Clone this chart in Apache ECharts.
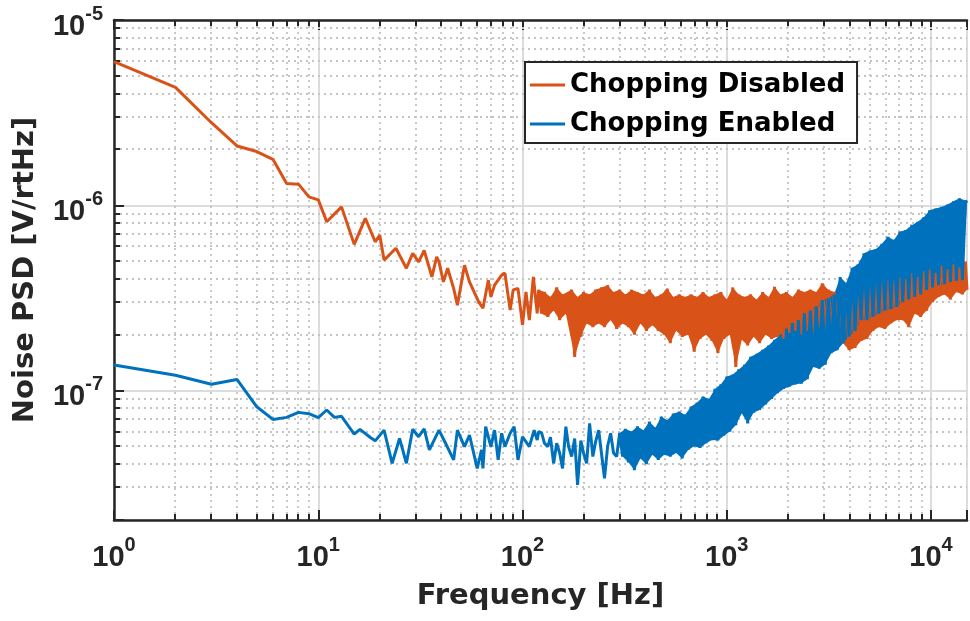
<!DOCTYPE html>
<html>
<head>
<meta charset="utf-8">
<script src="https://cdn.jsdelivr.net/npm/echarts@6/dist/echarts.min.js"></script>
<style>
  html, body { margin: 0; padding: 0; background: #ffffff; }
  #chart { width: 970px; height: 621px; }
</style>
</head>
<body>
<div id="chart"></div>
<script>
// Noise PSD values are stored in units of 1e-8 V/rtHz.
const UNIT = 1e-8;

// 1 Hz bins below ~120 Hz, listed at the turning points of each trace.
const disabledLowFreq = [1, 2, 3, 4, 5, 6, 7, 8, 9, 10, 11, 13, 15, 17, 19, 20, 21, 24, 27, 29,
  31, 33, 36, 38, 39, 41, 43, 46, 48, 52, 55, 61, 64, 68, 70, 73, 79, 82, 87, 90,
  95, 100, 104, 108, 113, 118];
const disabledLowVal = [596, 433, 279, 209, 195, 177, 131, 130, 111, 107, 81.5, 98, 61.5, 85, 63.5, 69, 50.6, 58.6, 45.7, 55,
  49.5, 57, 41.1, 52.7, 49.5, 38.6, 45.7, 35.6, 28.9, 47.5, 38.6, 30.1, 27.8, 39.4, 32.1, 37.1, 42, 43, 27.2, 34.9,
  35.6, 22.6, 34.1, 24, 41.1, 26.1];

const enabledLowFreq = [1, 2, 3, 4, 5, 6, 7, 8, 9, 10, 11, 12, 13, 15, 16, 18, 19, 21, 23, 25,
  27, 29, 31, 33, 35, 39, 42, 46, 48, 52, 55, 60, 63, 64, 66, 70, 73, 76, 79, 82,
  87, 91, 95, 100, 108, 114, 118];
const enabledLowVal = [13.74, 12.1, 10.8, 11.48, 8.17, 6.98, 7.16, 7.62, 7.5, 7.13, 7.85, 7.16, 7.26, 5.82, 6.17, 5.58, 5.35, 6.11, 4.04, 5.51,
  4.05, 6.18, 5.63, 6.2, 4.78, 6.11, 5.19, 4.22, 6.11, 4.98, 5.75, 3.8, 4.78, 3.8, 6.38, 4.98, 6.11, 4.22, 5.88, 4.98,
  5.88, 6.38, 4.22, 5.63, 4.98, 6.11, 5.4];

// Above 120 Hz both traces are sampled on the same bins, alternating between
// the crests and troughs of the noise band.
const denseFreq = [120, 124, 128, 133, 137, 142, 147, 152, 157, 163,
  168, 174, 180, 186, 193, 199, 206, 213, 221, 228,
  236, 244, 252, 261, 270, 279, 289, 299, 309, 319,
  330, 342, 353, 365, 378, 391, 404, 418, 432, 447,
  462, 478, 494, 511, 529, 547, 565, 585, 605, 625,
  647, 669, 692, 715, 740, 765, 791, 818, 846, 875,
  905, 936, 968, 1000, 1035, 1070, 1107, 1145, 1184, 1224,
  1266, 1309, 1354, 1400, 1448, 1498, 1549, 1602, 1657, 1713,
  1772, 1833, 1895, 1960, 2027, 2096, 2168, 2242, 2319, 2398,
  2480, 2565, 2653, 2743, 2837, 2934, 3034, 3138, 3245, 3356,
  3471, 3590, 3712, 3839, 3971, 4106, 4247, 4392, 4542, 4697,
  4858, 5024, 5196, 5373, 5557, 5747, 5944, 6147, 6357, 6574,
  6799, 7032, 7272, 7520, 7777, 8043, 8318, 8603, 8897, 9201,
  9516, 9841, 10177, 10525, 10885, 11257, 11642, 12040, 12452, 12878,
  13318, 13773, 14244, 14731, 15000];

const disabledDenseVal = [35, 26, 34, 25, 32, 27, 36, 24, 33, 26,
  30, 35, 15.2, 32, 19.5, 34, 23, 33, 22, 35,
  23, 36, 22, 37, 24, 34, 21.5, 35, 23, 33,
  22, 35, 20, 34, 23, 33, 21, 35, 22.5, 32,
  21, 33, 20, 35.5, 18, 32, 21, 33, 19.5, 32,
  20, 33, 16.2, 32, 19, 34, 20, 32, 18.5, 33,
  15.9, 34, 19, 31, 20, 36, 13.4, 33, 18.8, 32,
  17.5, 33, 19.5, 31, 18, 34, 20, 32, 19, 36.3,
  19.5, 33, 19, 34, 20.5, 32, 21, 35, 20, 34,
  21, 35, 20, 34, 22, 37.9, 21, 35, 20, 34,
  19, 36, 18, 35, 16.5, 37, 17, 36, 18.5, 38,
  19, 37, 21, 39, 22, 38, 21.5, 40, 23, 39,
  24, 41, 24, 40, 22, 43, 26, 41, 25, 44,
  27, 45, 30, 43, 32, 47, 33, 45, 31, 48,
  34, 46, 33, 49.6, 35];

const enabledDenseVal = [6.0, 5.9, 5.2, 4.98, 5.6, 4.04, 5.19, 4.6, 3.8, 6.38,
  5.0, 4.4, 5.5, 3.09, 5.37, 4.6, 4.04, 6.65, 4.4, 5.3,
  6.11, 4.5, 3.36, 5.0, 5.88, 4.6, 4.4, 5.9, 4.4, 6.2,
  4.1, 6.0, 3.72, 6.4, 4.3, 6.1, 4.0, 6.79, 4.5, 6.3,
  4.22, 7.24, 4.5, 6.9, 4.4, 7.5, 4.6, 7.69, 4.3, 7.4,
  4.78, 8.19, 5.0, 8.6, 4.9, 9.27, 5.19, 9.0, 5.4, 10.2,
  5.37, 10.8, 5.7, 11.9, 6.0, 12.2, 6.5, 13.0, 7.53, 13.8,
  6.65, 15.2, 7.6, 15.8, 7.85, 16.6, 8.4, 17.5, 9.0, 18.8,
  9.67, 20, 10.2, 21.5, 10.5, 23.1, 10.8, 24, 10.9, 26.1,
  11.5, 27, 13.4, 28.5, 13.1, 30.8, 13.8, 31.5, 15.9, 33,
  16.5, 41, 18, 38, 19.5, 46, 21, 48, 24, 55,
  24, 57, 25, 58, 26, 62, 27, 67.6, 27.5, 65,
  28.3, 72, 30, 73.5, 31, 78, 32, 81.5, 33, 86,
  34.9, 94, 36, 96, 37, 98, 37.5, 101, 38.5, 105,
  39, 109, 39.4, 106, 103];

// Index into denseFreq from which each trace reads as a filled noise band.
const disabledBandStart = 0;
const enabledBandStart = 27;

// Labelled decades on each axis (exponents of 10).
const xTickExponents = [0, 1, 2, 3, 4];
const yTickExponents = [-7, -6, -5];

const seriesNames = ['Chopping Disabled', 'Chopping Enabled'];
const seriesColors = ['#D95319', '#0072BD'];

const X_MIN = 1, X_MAX = 15000;
const Y_MIN = 2e-8, Y_MAX = 1e-5;

function toPairs(freq, val) {
  return freq.map((f, i) => [f, val[i] * UNIT]);
}
const disabledDense = toPairs(denseFreq, disabledDenseVal);
const enabledDense = toPairs(denseFreq, enabledDenseVal);
const disabledData = toPairs(disabledLowFreq, disabledLowVal).concat(disabledDense);
const enabledData = toPairs(enabledLowFreq, enabledLowVal).concat(enabledDense);

// Minor grid positions: 2..9 within every decade of each axis.
const minorItems = [];
for (let e = 0; e <= 4; e++) {
  for (let m = 2; m <= 9; m++) {
    const v = m * Math.pow(10, e);
    if (v < X_MAX) minorItems.push([v, 1e-7, 0]);
  }
}
for (let e = -8; e <= -6; e++) {
  for (let m = 2; m <= 9; m++) {
    const v = m * Math.pow(10, e);
    if (v > Y_MIN * 1.001 && v < Y_MAX) minorItems.push([10, v, 1]);
  }
}

const AXIS_COLOR = '#262626';
const TICK_FONT = 'Liberation Sans, Arial, sans-serif';
const TITLE_FONT = 'DejaVu Sans, Verdana, sans-serif';

function decadeLabel(exponents) {
  return function (value) {
    const lg = Math.log10(value);
    const e = Math.round(lg);
    if (Math.abs(lg - e) > 1e-6 || exponents.indexOf(e) < 0) return '';
    return '{b|10}{e|' + e + '}';
  };
}

const tickRich = {
  b: { fontFamily: TICK_FONT, fontWeight: 'bold', fontSize: 29, color: AXIS_COLOR, verticalAlign: 'bottom', lineHeight: 42 },
  e: { fontFamily: TICK_FONT, fontWeight: 'bold', fontSize: 20, color: AXIS_COLOR, verticalAlign: 'top', padding: [5, 0, 0, 0] }
};

const axisLineStyle = { color: AXIS_COLOR, width: 2.5 };
const majorTick = { show: true, inside: true, length: 10, lineStyle: { color: AXIS_COLOR, width: 2 } };
const majorSplit = { show: true, lineStyle: { color: '#dcdcdc', width: 2, type: 'solid' } };

// Fills the noise band of a trace: a polygon running along its crests and back along its troughs.
function bandRenderer(startIndex, color) {
  return function (params, api) {
    if (params.dataIndexInside !== 0) return null;
    const n = params.dataInsideLength;
    const pts = [];
    for (let j = 0; j < n; j++) pts.push([api.value(0, j), api.value(1, j)]);
    const top = [], bottom = [];
    for (let j = startIndex; j < n; j++) {
      const v = pts[j][1];
      const prev = j > startIndex ? pts[j - 1][1] : null;
      const next = j < n - 1 ? pts[j + 1][1] : null;
      if ((prev === null || v >= prev) && (next === null || v >= next)) top.push(api.coord(pts[j]));
      if ((prev === null || v <= prev) && (next === null || v <= next)) bottom.push(api.coord(pts[j]));
    }
    return {
      type: 'polygon',
      shape: { points: top.concat(bottom.reverse()) },
      style: { fill: color, stroke: null }
    };
  };
}

function traceSeries(name, color, data) {
  return {
    name: name,
    type: 'line',
    data: data,
    showSymbol: false,
    symbol: 'none',
    silent: true,
    clip: true,
    itemStyle: { color: color },
    lineStyle: { color: color, width: 3, join: 'bevel' }
  };
}

function bandSeries(name, color, data, startIndex) {
  return {
    name: name,
    type: 'custom',
    silent: true,
    clip: true,
    data: data,
    renderItem: bandRenderer(startIndex, color)
  };
}

const chart = echarts.init(document.getElementById('chart'), null, { renderer: 'canvas' });

chart.setOption({
  animation: false,
  backgroundColor: '#ffffff',
  grid: { left: 114, top: 20, width: 857, height: 500, containLabel: false },
  legend: {
    data: seriesNames,
    orient: 'vertical',
    left: 525,
    top: 62,
    padding: [10, 12, 6, 5],
    itemGap: 13,
    itemWidth: 35,
    itemHeight: 3,
    icon: 'rect',
    backgroundColor: '#ffffff',
    borderColor: AXIS_COLOR,
    borderWidth: 2,
    borderRadius: 0,
    selectedMode: false,
    textStyle: { fontFamily: TITLE_FONT, fontWeight: 'bold', fontSize: 26, color: '#000000' }
  },
  xAxis: [{
    type: 'log',
    logBase: 10,
    min: X_MIN,
    max: X_MAX,
    position: 'bottom',
    axisLine: { show: true, onZero: false, lineStyle: axisLineStyle },
    axisTick: majorTick,
    axisLabel: { show: true, margin: 10, formatter: decadeLabel(xTickExponents), rich: tickRich },
    splitLine: majorSplit,
    minorTick: { show: false },
    minorSplitLine: { show: false },
    name: 'Frequency [Hz]',
    nameLocation: 'middle',
    nameGap: 62,
    nameTextStyle: { fontFamily: TITLE_FONT, fontWeight: 'bold', fontSize: 29, color: AXIS_COLOR }
  }, {
    type: 'log',
    logBase: 10,
    min: X_MIN,
    max: X_MAX,
    position: 'top',
    axisLine: { show: true, onZero: false, lineStyle: axisLineStyle },
    axisTick: majorTick,
    axisLabel: { show: false },
    splitLine: { show: false }
  }],
  yAxis: {
    type: 'log',
    logBase: 10,
    min: Y_MIN,
    max: Y_MAX,
    axisLine: { show: true, onZero: false, lineStyle: axisLineStyle },
    axisTick: majorTick,
    axisLabel: { show: true, margin: 11, formatter: decadeLabel(yTickExponents), rich: tickRich },
    splitLine: majorSplit,
    minorTick: { show: false },
    minorSplitLine: { show: false },
    name: 'Noise PSD [V/rtHz]',
    nameLocation: 'middle',
    nameRotate: 90,
    nameGap: 74,
    nameTextStyle: { fontFamily: TITLE_FONT, fontWeight: 'bold', fontSize: 29, color: AXIS_COLOR }
  },
  series: [{
    // dotted minor grid with short inward ticks on the axes
    type: 'custom',
    name: 'minor grid',
    xAxisIndex: 0,
    yAxisIndex: 0,
    silent: true,
    z: 1,
    data: minorItems,
    renderItem: function (params, api) {
      const cs = params.coordSys;
      const top = cs.y, bottom = cs.y + cs.height, left = cs.x, right = cs.x + cs.width;
      const gridStyle = { stroke: '#c4c4c4', lineWidth: 1.8, lineDash: [2, 4], fill: null };
      const tickStyle = { stroke: AXIS_COLOR, lineWidth: 2, fill: null };
      const pt = api.coord([api.value(0), api.value(1)]);
      if (api.value(2) === 0) {
        const px = Math.round(pt[0]);
        return {
          type: 'group',
          children: [
            { type: 'line', shape: { x1: px, y1: top, x2: px, y2: bottom }, style: gridStyle },
            { type: 'line', shape: { x1: px, y1: bottom, x2: px, y2: bottom - 6 }, style: tickStyle },
            { type: 'line', shape: { x1: px, y1: top, x2: px, y2: top + 6 }, style: tickStyle }
          ]
        };
      }
      const py = Math.round(pt[1]);
      return {
        type: 'group',
        children: [
          { type: 'line', shape: { x1: left, y1: py, x2: right, y2: py }, style: gridStyle },
          { type: 'line', shape: { x1: left, y1: py, x2: left + 6, y2: py }, style: tickStyle }
        ]
      };
    }
  },
  bandSeries(seriesNames[0] + ' band', seriesColors[0], disabledDense, disabledBandStart),
  traceSeries(seriesNames[0], seriesColors[0], disabledData),
  bandSeries(seriesNames[1] + ' band', seriesColors[1], enabledDense, enabledBandStart),
  traceSeries(seriesNames[1], seriesColors[1], enabledData)
  ]
});
</script>
</body>
</html>
